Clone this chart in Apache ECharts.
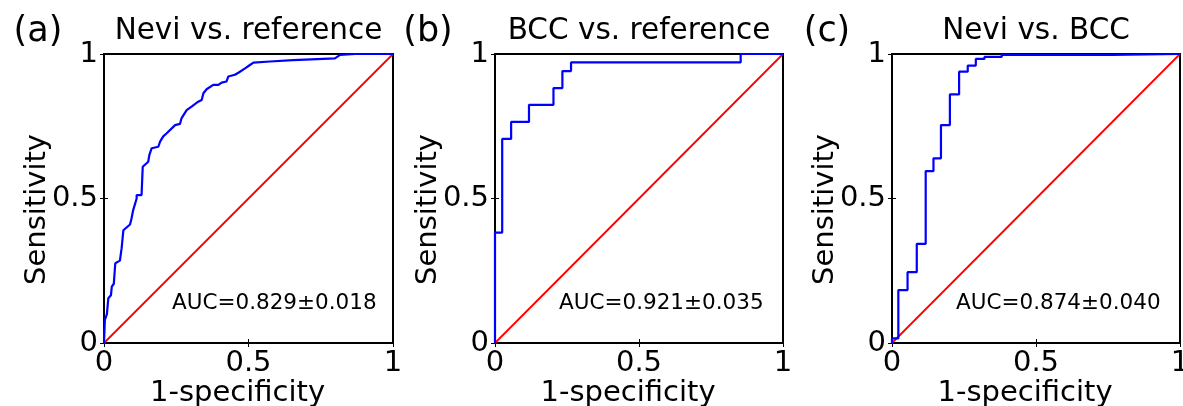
<!DOCTYPE html>
<html>
<head>
<meta charset="utf-8">
<script src="https://cdn.jsdelivr.net/npm/echarts@6/dist/echarts.min.js"></script>
<style>
  html, body { margin: 0; padding: 0; background: #fff; }
  #root { width: 1183px; height: 406px; }
</style>
</head>
<body>
<div id="root"></div>
<script>
// data: [1-specificity, sensitivity]
const rocNeviRef = [
  [0, 0], [0.003, 0.005], [0.003, 0.08], [0.01, 0.10], [0.015, 0.155], [0.024, 0.165],
  [0.027, 0.195], [0.034, 0.205], [0.039, 0.276], [0.055, 0.285], [0.061, 0.328],
  [0.067, 0.39], [0.075, 0.397], [0.09, 0.41], [0.095, 0.43], [0.101, 0.46],
  [0.113, 0.50], [0.113, 0.512], [0.130, 0.512], [0.134, 0.61], [0.153, 0.627],
  [0.157, 0.651], [0.165, 0.674], [0.188, 0.679], [0.194, 0.697], [0.205, 0.715],
  [0.217, 0.726], [0.246, 0.754], [0.263, 0.758], [0.268, 0.777], [0.286, 0.806],
  [0.303, 0.818], [0.326, 0.835], [0.338, 0.841], [0.344, 0.864], [0.355, 0.878],
  [0.378, 0.893], [0.396, 0.893], [0.407, 0.901], [0.424, 0.905], [0.430, 0.922],
  [0.453, 0.928], [0.465, 0.935], [0.488, 0.950], [0.505, 0.962], [0.517, 0.970],
  [0.574, 0.974], [0.580, 0.977], [0.655, 0.979], [0.661, 0.983], [0.799, 0.985],
  [0.817, 0.997], [0.869, 1], [1, 1]
]
const rocBccRef = [
  [0, 0], [0, 0.382], [0.025, 0.382], [0.025, 0.706], [0.056, 0.706], [0.056, 0.765],
  [0.118, 0.765], [0.118, 0.824], [0.203, 0.824], [0.203, 0.882], [0.234, 0.882],
  [0.234, 0.941], [0.264, 0.941], [0.264, 0.971], [0.853, 0.971], [0.853, 1], [1, 1]
]
const rocNeviBcc = [
  [0, 0], [0, 0.016], [0.022, 0.016], [0.022, 0.183], [0.054, 0.183], [0.054, 0.245],
  [0.086, 0.245], [0.086, 0.343], [0.117, 0.343], [0.117, 0.595], [0.144, 0.595],
  [0.144, 0.639], [0.170, 0.639], [0.170, 0.754], [0.201, 0.754], [0.201, 0.860],
  [0.233, 0.860], [0.233, 0.939], [0.263, 0.939], [0.263, 0.960], [0.291, 0.960],
  [0.291, 0.983], [0.321, 0.983], [0.321, 0.990], [0.381, 0.990], [0.381, 0.997],
  [0.763, 0.997], [0.763, 1], [1, 1]
]
const chanceLine = [[0, 0], [1, 1]]

const panelLetters = ['(a)', '(b)', '(c)']
const panelTitles = ['Nevi vs. reference', 'BCC vs. reference', 'Nevi vs. BCC']
const aucLabels = ['AUC=0.829±0.018', 'AUC=0.921±0.035', 'AUC=0.874±0.040']
const tickLabels = ['0', '0.5', '1']

;(function () {
  const chart = echarts.init(document.getElementById('root'), null, { renderer: 'canvas' })
  const font = 'DejaVu Sans'

  // plot boxes (pixels)
  const boxes = [
    { left: 104, top: 54, width: 289, height: 289 },
    { left: 495, top: 54, width: 288, height: 289 },
    { left: 892, top: 54, width: 288, height: 289 }
  ]
  const letterX = [38, 428, 827]
  const aucX = [172, 559, 956]
  const rocs = [rocNeviRef, rocBccRef, rocNeviBcc]

  const fmt = v => (v === 0 ? tickLabels[0] : v === 1 ? tickLabels[2] : tickLabels[1])

  const grids = [], xAxes = [], yAxes = [], series = [], graphic = []

  boxes.forEach((b, i) => {
    grids.push({
      left: b.left, top: b.top, width: b.width, height: b.height,
      outerBoundsMode: 'none', containLabel: false,
      show: true, borderColor: '#000', borderWidth: 2, backgroundColor: 'transparent'
    })

    const tick = { show: true, inside: true, length: 4, lineStyle: { color: '#000', width: 1 } }

    // bottom and left: labels + names
    xAxes.push({
      type: 'value', gridIndex: i, min: 0, max: 1, interval: 0.5, position: 'bottom',
      axisLine: { show: false }, axisTick: tick, splitLine: { show: false },
      axisLabel: { formatter: fmt, color: '#000', fontFamily: font, fontSize: 29, margin: 6, showMinLabel: true, showMaxLabel: true },
      name: '1-specificity', nameLocation: 'middle', nameGap: 36, nameMoveOverlap: false,
      nameTextStyle: { color: '#000', fontFamily: font, fontSize: 29, padding: [0, 22, 0, 0] }
    })
    yAxes.push({
      type: 'value', gridIndex: i, min: 0, max: 1, interval: 0.5, position: 'left',
      axisLine: { show: false }, axisTick: tick, splitLine: { show: false },
      axisLabel: { formatter: fmt, color: '#000', fontFamily: font, fontSize: 29, margin: 6, showMinLabel: true, showMaxLabel: true },
      name: 'Sensitivity', nameLocation: 'middle', nameGap: 52, nameMoveOverlap: false,
      nameTextStyle: { color: '#000', fontFamily: font, fontSize: 29, padding: [0, 22, 0, 0] }
    })
    // top and right: mirrored ticks only
    xAxes.push({
      type: 'value', gridIndex: i, min: 0, max: 1, interval: 0.5, position: 'top',
      axisLine: { show: false }, axisTick: tick, axisLabel: { show: false }, splitLine: { show: false }
    })
    yAxes.push({
      type: 'value', gridIndex: i, min: 0, max: 1, interval: 0.5, position: 'right',
      axisLine: { show: false }, axisTick: tick, axisLabel: { show: false }, splitLine: { show: false }
    })

    series.push({
      type: 'line', xAxisIndex: i * 2, yAxisIndex: i * 2, data: chanceLine,
      showSymbol: false, clip: false, silent: true,
      lineStyle: { color: '#ff0000', width: 1.8 }, z: 3
    })
    series.push({
      type: 'line', xAxisIndex: i * 2, yAxisIndex: i * 2, data: rocs[i],
      showSymbol: false, clip: false, silent: true,
      lineStyle: { color: '#0000ff', width: 2.2 }, z: 4
    })

    graphic.push({
      type: 'text', x: letterX[i], y: 32,
      style: { text: panelLetters[i], fontFamily: font, fontSize: 35, fill: '#000', align: 'center', verticalAlign: 'middle' }
    })
    graphic.push({
      type: 'text', x: b.left + b.width / 2, y: 31,
      style: { text: panelTitles[i], fontFamily: font, fontSize: 29.5, fill: '#000', align: 'center', verticalAlign: 'middle' }
    })
    graphic.push({
      type: 'text', x: aucX[i], y: 303, z: 10,
      style: { text: aucLabels[i], fontFamily: font, fontSize: 21.5, fill: '#000', align: 'left', verticalAlign: 'middle' }
    })
  })

  chart.setOption({
    animation: false,
    backgroundColor: '#fff',
    grid: grids,
    xAxis: xAxes,
    yAxis: yAxes,
    series: series,
    graphic: graphic
  })
})()
</script>
</body>
</html>
